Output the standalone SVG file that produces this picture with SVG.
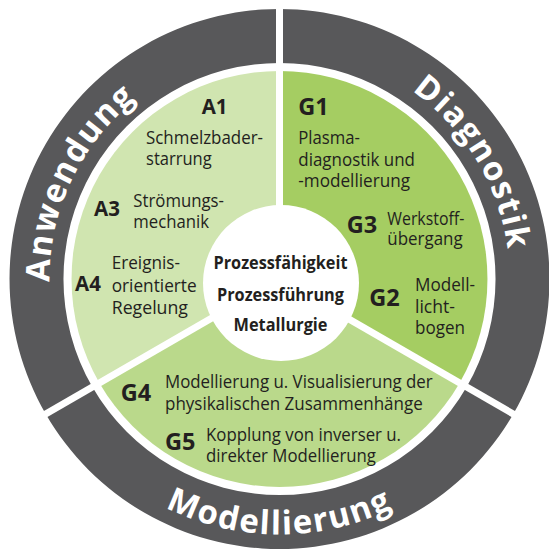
<svg xmlns="http://www.w3.org/2000/svg" width="549" height="551" viewBox="0 0 549 551">
<defs>
<style>
.ring{fill:#58585a}
.secA{fill:#d0e5b0}
.secG{fill:#a5cd62}
.secM{fill:#bad98b}
.div{stroke:#ffffff;stroke-width:7;fill:none}
.rt{font-family:"Open Sans","Noto Sans",sans-serif;font-weight:700;font-size:33px;fill:#ffffff;letter-spacing:1.5px}
.la{font-family:"Open Sans","Noto Sans",sans-serif;font-weight:700;font-size:20.5px;fill:#231f20}
.lg{font-family:"Open Sans","Noto Sans",sans-serif;font-weight:700;font-size:23.5px;fill:#231f20}
.t{font-family:"Open Sans","Noto Sans",sans-serif;font-size:17.5px;fill:#231f20}
.c{font-family:"Open Sans","Noto Sans",sans-serif;font-weight:700;font-size:17.5px;fill:#231f20;text-anchor:middle}
</style>
<path id="pA" d="M 70.2,374.4 A 230 230 0 0 1 221.9,56.3"/>
<path id="pD" d="M 315.5,51.8 A 230 230 0 0 1 497,353.9"/>
<path id="pM" d="M 84.2,442.9 A 254 254 0 0 0 474.8,442.9"/>
</defs>

<g id="ring-anwendung">
<path class="ring" d="M 45.7,414 A 270 270 0 0 1 279.5,9 L 279.5,63 A 216 216 0 0 0 92.4,387 Z"/>
<text class="rt"><textPath href="#pA" startOffset="50%" text-anchor="middle">Anwendung</textPath></text>
</g>
<g id="ring-diagnostik">
<path class="ring" d="M 279.5,9 A 270 270 0 0 1 513.3,414 L 466.6,387 A 216 216 0 0 0 279.5,63 Z"/>
<text class="rt"><textPath href="#pD" startOffset="50%" text-anchor="middle">Diagnostik</textPath></text>
</g>
<g id="ring-modellierung">
<path class="ring" d="M 513.3,414 A 270 270 0 0 1 45.7,414 L 92.4,387 A 216 216 0 0 0 466.6,387 Z"/>
<text class="rt"><textPath href="#pM" startOffset="50%" text-anchor="middle">Modellierung</textPath></text>
</g>

<g id="sector-anwendung">
<path class="secA" d="M 279.5,279 L 99.4,383 A 208 208 0 0 1 279.5,71 Z"/>
</g>
<g id="sector-diagnostik">
<path class="secG" d="M 279.5,279 L 279.5,71 A 208 208 0 0 1 459.6,383 Z"/>
</g>
<g id="sector-modellierung">
<path class="secM" d="M 279.5,279 L 459.6,383 A 208 208 0 0 1 99.4,383 Z"/>
</g>

<g id="dividers">
<line class="div" x1="279.5" y1="279" x2="279.5" y2="-2"/>
<line class="div" x1="279.5" y1="279" x2="522" y2="419"/>
<line class="div" x1="279.5" y1="279" x2="37" y2="419"/>
</g>

<g id="center">
<circle cx="281" cy="283" r="78" fill="#ffffff"/>
<text class="c" x="280.5" y="269" textLength="134" lengthAdjust="spacingAndGlyphs">Prozessfähigkeit</text>
<text class="c" x="280.5" y="301" textLength="127" lengthAdjust="spacingAndGlyphs">Prozessführung</text>
<text class="c" x="280.5" y="331" textLength="94" lengthAdjust="spacingAndGlyphs">Metallurgie</text>
</g>

<g id="A1">
<text class="la" x="201.7" y="114">A1</text>
<text class="t" x="146" y="143.5" textLength="117" lengthAdjust="spacingAndGlyphs">Schmelzbader-</text>
<text class="t" x="146" y="165" textLength="65.7" lengthAdjust="spacingAndGlyphs">starrung</text>
</g>
<g id="A3">
<text class="la" x="94" y="215.5">A3</text>
<text class="t" x="133.3" y="206.5" textLength="90.7" lengthAdjust="spacingAndGlyphs">Strömungs-</text>
<text class="t" x="133.3" y="228" textLength="75.7" lengthAdjust="spacingAndGlyphs">mechanik</text>
</g>
<g id="A4">
<text class="la" x="75" y="291">A4</text>
<text class="t" x="111.7" y="268.8" textLength="68.3" lengthAdjust="spacingAndGlyphs">Ereignis-</text>
<text class="t" x="111.7" y="291.6" textLength="85" lengthAdjust="spacingAndGlyphs">orientierte</text>
<text class="t" x="111.7" y="313.8" textLength="76.3" lengthAdjust="spacingAndGlyphs">Regelung</text>
</g>
<g id="G1">
<text class="lg" x="298.3" y="115">G1</text>
<text class="t" x="298.3" y="144" textLength="61.7" lengthAdjust="spacingAndGlyphs">Plasma-</text>
<text class="t" x="298.3" y="166" textLength="116.7" lengthAdjust="spacingAndGlyphs">diagnostik und</text>
<text class="t" x="298.3" y="187" textLength="111.7" lengthAdjust="spacingAndGlyphs">-modellierung</text>
</g>
<g id="G3">
<text class="lg" x="346.7" y="233">G3</text>
<text class="t" x="387.3" y="225" textLength="77" lengthAdjust="spacingAndGlyphs">Werkstoff-</text>
<text class="t" x="387.3" y="245" textLength="75.4" lengthAdjust="spacingAndGlyphs">übergang</text>
</g>
<g id="G2">
<text class="lg" x="369.3" y="306">G2</text>
<text class="t" x="415" y="291" textLength="60" lengthAdjust="spacingAndGlyphs">Modell-</text>
<text class="t" x="415" y="313" textLength="40" lengthAdjust="spacingAndGlyphs">licht-</text>
<text class="t" x="415" y="334" textLength="50" lengthAdjust="spacingAndGlyphs">bogen</text>
</g>
<g id="G4">
<text class="lg" x="120.8" y="401">G4</text>
<text class="t" x="165" y="388" textLength="267.7" lengthAdjust="spacingAndGlyphs">Modellierung u. Visualisierung der</text>
<text class="t" x="165" y="409.5" textLength="257.7" lengthAdjust="spacingAndGlyphs">physikalischen Zusammenhänge</text>
</g>
<g id="G5">
<text class="lg" x="165" y="449.5">G5</text>
<text class="t" x="206" y="441" textLength="195" lengthAdjust="spacingAndGlyphs">Kopplung von inverser u.</text>
<text class="t" x="206" y="462" textLength="170" lengthAdjust="spacingAndGlyphs">direkter Modellierung</text>
</g>
</svg>
